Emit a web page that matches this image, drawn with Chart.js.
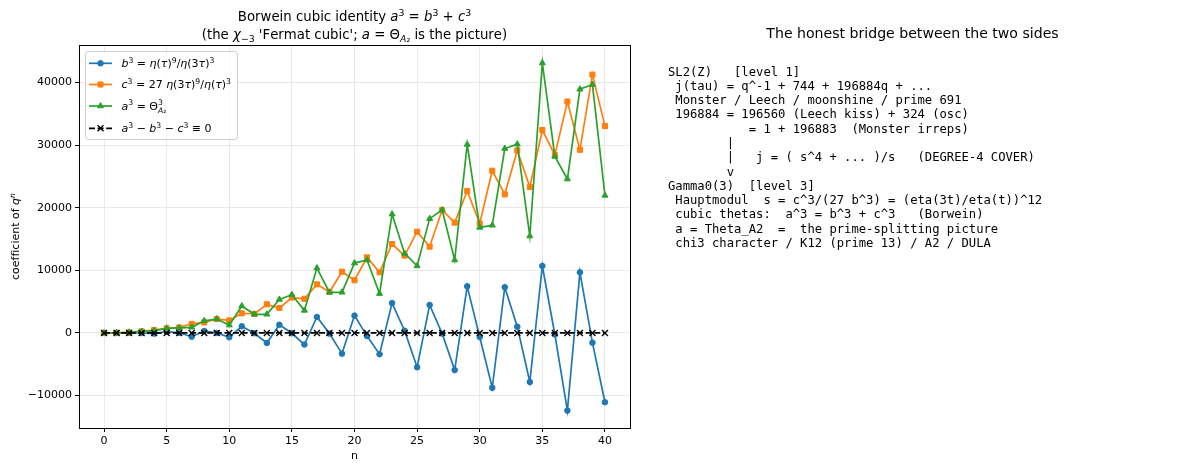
<!DOCTYPE html>
<html>
<head>
<meta charset="utf-8">
<script src="https://cdn.jsdelivr.net/npm/chart.js@4.4.1/dist/chart.umd.min.js"></script>
<style>
html, body { margin: 0; padding: 0; background: #fff; }
#wrap { position: relative; width: 1200px; height: 470px; overflow: hidden; }
#chart { position: absolute; left: 0; top: 0; }
#side-title { position: absolute; left: 660px; width: 505px; top: 24px; line-height: 18px;
  text-align: center; font-family: "DejaVu Sans"; font-size: 14.1px; color: #000; }
#side-text { position: absolute; left: 668px; top: 64.5px; margin: 0; font-family: "DejaVu Sans Mono";
  font-size: 12.2px; line-height: 14.3px; color: #000; white-space: pre; }
</style>
</head>
<body>
<div id="wrap">
  <canvas id="chart" width="1200" height="470"></canvas>
  <div id="side-title">The honest bridge between the two sides</div>
<pre id="side-text">SL2(Z)   [level 1]
 j(tau) = q^-1 + 744 + 196884q + ...
 Monster / Leech / moonshine / prime 691
 196884 = 196560 (Leech kiss) + 324 (osc)
           = 1 + 196883  (Monster irreps)
        |
        |   j = ( s^4 + ... )/s   (DEGREE-4 COVER)
        v
Gamma0(3)  [level 3]
 Hauptmodul  s = c^3/(27 b^3) = (eta(3t)/eta(t))^12
 cubic thetas:  a^3 = b^3 + c^3   (Borwein)
 a = Theta_A2  =  the prime-splitting picture
 chi3 character / K12 (prime 13) / A2 / DULA</pre>
</div>
<script>
// coefficient index n (x axis)
const nValues = [0, 1, 2, 3, 4, 5, 6, 7, 8, 9, 10, 11, 12, 13, 14, 15, 16, 17, 18, 19, 20,
                 21, 22, 23, 24, 25, 26, 27, 28, 29, 30, 31, 32, 33, 34, 35, 36, 37, 38, 39, 40];

const bCubed = [0, -10, 30, -10, -100, 200, 30, -600, 300, 0, -690, 1060, -50, -1600, 1300, -50,
                -1850, 2550, -100, -3300, 2770, -500, -3400, 4770, 350, -5480, 4470, -100, -5930, 7440,
                -640, -8750, 7300, 1000, -7830, 10690, -250, -12400, 9680, -1560, -11070];
const cCubed = [0, 30, 80, 250, 470, 720, 880, 1450, 1680, 2220, 2000, 3140, 3030, 4570, 3990, 5650,
                5450, 7760, 6540, 9780, 8410, 12070, 9680, 14200, 12350, 16170, 13780, 19630, 17610, 22670,
                17490, 25900, 22130, 29150, 23290, 32400, 28400, 36950, 29250, 41250, 33030];
const aCubed = [0, 20, 110, 240, 370, 740, 800, 900, 1950, 2220, 1250, 4300, 2980, 2980, 5350, 6110,
                3600, 10350, 6490, 6490, 11160, 11640, 6280, 18970, 12700, 10700, 18250, 19630, 11650, 30100,
                16850, 17190, 29450, 30150, 15480, 43110, 28190, 24580, 38920, 39660, 21960];
const residual = [0, 0, 0, 0, 0, 0, 0, 0, 0, 0, 0, 0, 0, 0, 0, 0, 0, 0, 0, 0, 0,
                  0, 0, 0, 0, 0, 0, 0, 0, 0, 0, 0, 0, 0, 0, 0, 0, 0, 0, 0, 0];

const seriesLabels = [
  '$b^3 = η(τ)^9/η(3τ)^3$',
  '$c^3 = 27 η(3τ)^9/η(τ)^3$',
  '$a^3 = Θ^3_{A₂}$',
  '$a^3 − b^3 − c^3 ≡ 0$'
];
const xTicks = [0, 5, 10, 15, 20, 25, 30, 35, 40];
const yTicks = [-10000, 0, 10000, 20000, 30000, 40000];
const titleLines = [
  'Borwein cubic identity $a^3 = b^3 + c^3$',
  "(the $χ_{−3}$ 'Fermat cubic'; $a = Θ_{A₂}$ is the picture)"
];
const xLabel = 'n';
const yLabel = 'coefficient of $q^n$';

Chart.defaults.font.family = '"DejaVu Sans"';
Chart.defaults.color = '#000';

// tiny mathtext-ish renderer: $..$ italic letters, ^ and _ scripts
function parseRich(str) {
  const out = [];
  let math = false;
  for (let i = 0; i < str.length; i++) {
    const ch = str[i];
    if (ch === '$') { math = !math; continue; }
    if (math && (ch === '^' || ch === '_')) {
      let grp;
      if (str[i + 1] === '{') {
        const j = str.indexOf('}', i + 2);
        grp = str.slice(i + 2, j);
        i = j;
      } else {
        grp = str[i + 1];
        i++;
      }
      out.push({ text: grp, script: ch === '^' ? 1 : -1, math: true });
      continue;
    }
    out.push({ text: ch, script: 0, math });
  }
  return out;
}

function layoutRich(ctx, str, size) {
  const items = [];
  let x = 0, prevScript = 0, prevStart = 0;
  for (const tok of parseRich(str)) {
    const fs = tok.script ? size * 0.7 : size;
    const dy = tok.script === 1 ? -size * 0.4 : tok.script === -1 ? size * 0.25 : 0;
    let start = x;
    if (tok.script && prevScript && prevScript !== tok.script) start = prevStart;
    let cx = start;
    for (const c of tok.text) {
      const ital = tok.math && /[A-Za-zα-ω]/.test(c);
      const font = (ital ? 'italic ' : '') + fs + 'px "DejaVu Sans"';
      ctx.font = font;
      items.push({ c, font, x: cx, dy });
      cx += ctx.measureText(c).width;
    }
    x = Math.max(x, cx);
    prevScript = tok.script;
    prevStart = start;
  }
  return { items, width: x };
}

function drawRich(ctx, str, x, baseline, size, align) {
  const lay = layoutRich(ctx, str, size);
  const x0 = align === 'center' ? x - lay.width / 2 : x;
  ctx.save();
  ctx.fillStyle = '#000';
  ctx.textBaseline = 'alphabetic';
  ctx.textAlign = 'left';
  for (const it of lay.items) {
    ctx.font = it.font;
    ctx.fillText(it.c, x0 + it.x, baseline + it.dy);
  }
  ctx.restore();
  return lay.width;
}

const richTitle = {
  id: 'richTitle',
  afterDraw(chart) {
    const { ctx, chartArea } = chart;
    const cx = (chartArea.left + chartArea.right) / 2;
    drawRich(ctx, titleLines[0], cx, 21, 13.3, 'center');
    drawRich(ctx, titleLines[1], cx, 39, 13.3, 'center');
    // y axis label, rotated
    ctx.save();
    ctx.translate(15, (chartArea.top + chartArea.bottom) / 2);
    ctx.rotate(-Math.PI / 2);
    drawRich(ctx, yLabel, 0, 4, 11, 'center');
    ctx.restore();
  }
};

const frame = {
  id: 'frame',
  afterDatasetsDraw(chart) {
    const { ctx, chartArea: a } = chart;
    ctx.save();
    ctx.strokeStyle = '#000';
    ctx.lineWidth = 1;
    ctx.strokeRect(Math.round(a.left) + 0.5, Math.round(a.top) + 0.5,
                   Math.round(a.right - a.left), Math.round(a.bottom - a.top));
    ctx.restore();
  }
};

const richLegend = {
  id: 'richLegend',
  afterDraw(chart) {
    const ctx = chart.ctx;
    const rows = [63.3, 84.5, 106, 128.3];
    const textX = 121.5, fs = 11;
    let maxW = 0;
    chart.data.datasets.forEach((ds) => {
      maxW = Math.max(maxW, layoutRich(ctx, ds.label, fs).width);
    });
    const left = 85, top = 51, right = textX + maxW + 6, bottom = 139;
    ctx.save();
    ctx.beginPath();
    ctx.roundRect(left + 0.5, top + 0.5, right - left, bottom - top, 3);
    ctx.fillStyle = 'rgba(255,255,255,0.8)';
    ctx.fill();
    ctx.strokeStyle = '#cccccc';
    ctx.lineWidth = 1;
    ctx.stroke();
    chart.data.datasets.forEach((ds, i) => {
      const y = rows[i];
      ctx.save();
      ctx.strokeStyle = ds.borderColor;
      ctx.lineWidth = ds.borderWidth;
      ctx.setLineDash(ds.borderDash || []);
      ctx.beginPath();
      ctx.moveTo(89, y);
      ctx.lineTo(112, y);
      ctx.stroke();
      ctx.setLineDash([]);
      ctx.fillStyle = ds.pointBackgroundColor;
      ctx.strokeStyle = ds.pointBorderColor;
      ctx.lineWidth = ds.pointBorderWidth;
      Chart.helpers.drawPoint(ctx, {
        pointStyle: ds.pointStyle, radius: ds.pointRadius,
        borderWidth: ds.pointBorderWidth, rotation: 0
      }, 100.5, y);
      ctx.restore();
      drawRich(ctx, ds.label, textX, y + 3.8, fs, 'left');
    });
    ctx.restore();
  }
};

function series(values) {
  return nValues.map((n, i) => ({ x: n, y: values[i] }));
}

function makeSet(label, values, color, style, radius, order, extra) {
  return Object.assign({
    label,
    data: series(values),
    borderColor: color,
    backgroundColor: color,
    pointBackgroundColor: color,
    pointBorderColor: color,
    pointBorderWidth: 1,
    pointStyle: style,
    pointRadius: radius,
    borderWidth: 1.7,
    tension: 0,
    fill: false,
    order
  }, extra || {});
}

new Chart(document.getElementById('chart'), {
  type: 'line',
  data: {
    datasets: [
      makeSet(seriesLabels[0], bCubed, '#1f77b4', 'circle', 2.8, 4),
      makeSet(seriesLabels[1], cCubed, '#ff7f0e', 'rect', 3.6, 3),
      makeSet(seriesLabels[2], aCubed, '#2ca02c', 'triangle', 3.5, 2),
      makeSet(seriesLabels[3], residual, '#000000', 'crossRot', 4.2, 1,
              { borderDash: [6, 2.6], pointBorderWidth: 1.4 })
    ]
  },
  options: {
    responsive: false,
    animation: false,
    layout: { padding: { top: 45, right: 570, left: 0, bottom: 0 } },
    plugins: {
      legend: { display: false },
      tooltip: { enabled: false },
      title: { display: false }
    },
    scales: {
      x: {
        type: 'linear',
        min: -2,
        max: 42,
        afterBuildTicks: (s) => { s.ticks = xTicks.map((v) => ({ value: v })); },
        afterFit: (s) => { s.height = 42; },
        grid: { color: '#e6e6e6', lineWidth: 0.9, tickColor: '#000', tickLength: 4, tickWidth: 1 },
        border: { color: '#000', width: 1 },
        ticks: { color: '#000', font: { size: 11 }, padding: 3, maxRotation: 0, autoSkip: false },
        title: { display: true, text: xLabel, color: '#000', font: { size: 11 }, padding: { top: 0, bottom: 7 } }
      },
      y: {
        min: -15180,
        max: 45980,
        afterBuildTicks: (s) => { s.ticks = yTicks.map((v) => ({ value: v })); },
        afterFit: (s) => { s.width = 79; },
        grid: { color: '#e6e6e6', lineWidth: 0.9, tickColor: '#000', tickLength: 4, tickWidth: 1 },
        border: { color: '#000', width: 1 },
        ticks: { color: '#000', font: { size: 11 }, padding: 3, autoSkip: false,
                 callback: (v) => (v < 0 ? '−' + Math.abs(v) : String(v)) },
        title: { display: false }
      }
    }
  },
  plugins: [frame, richLegend, richTitle]
});
</script>
</body>
</html>
